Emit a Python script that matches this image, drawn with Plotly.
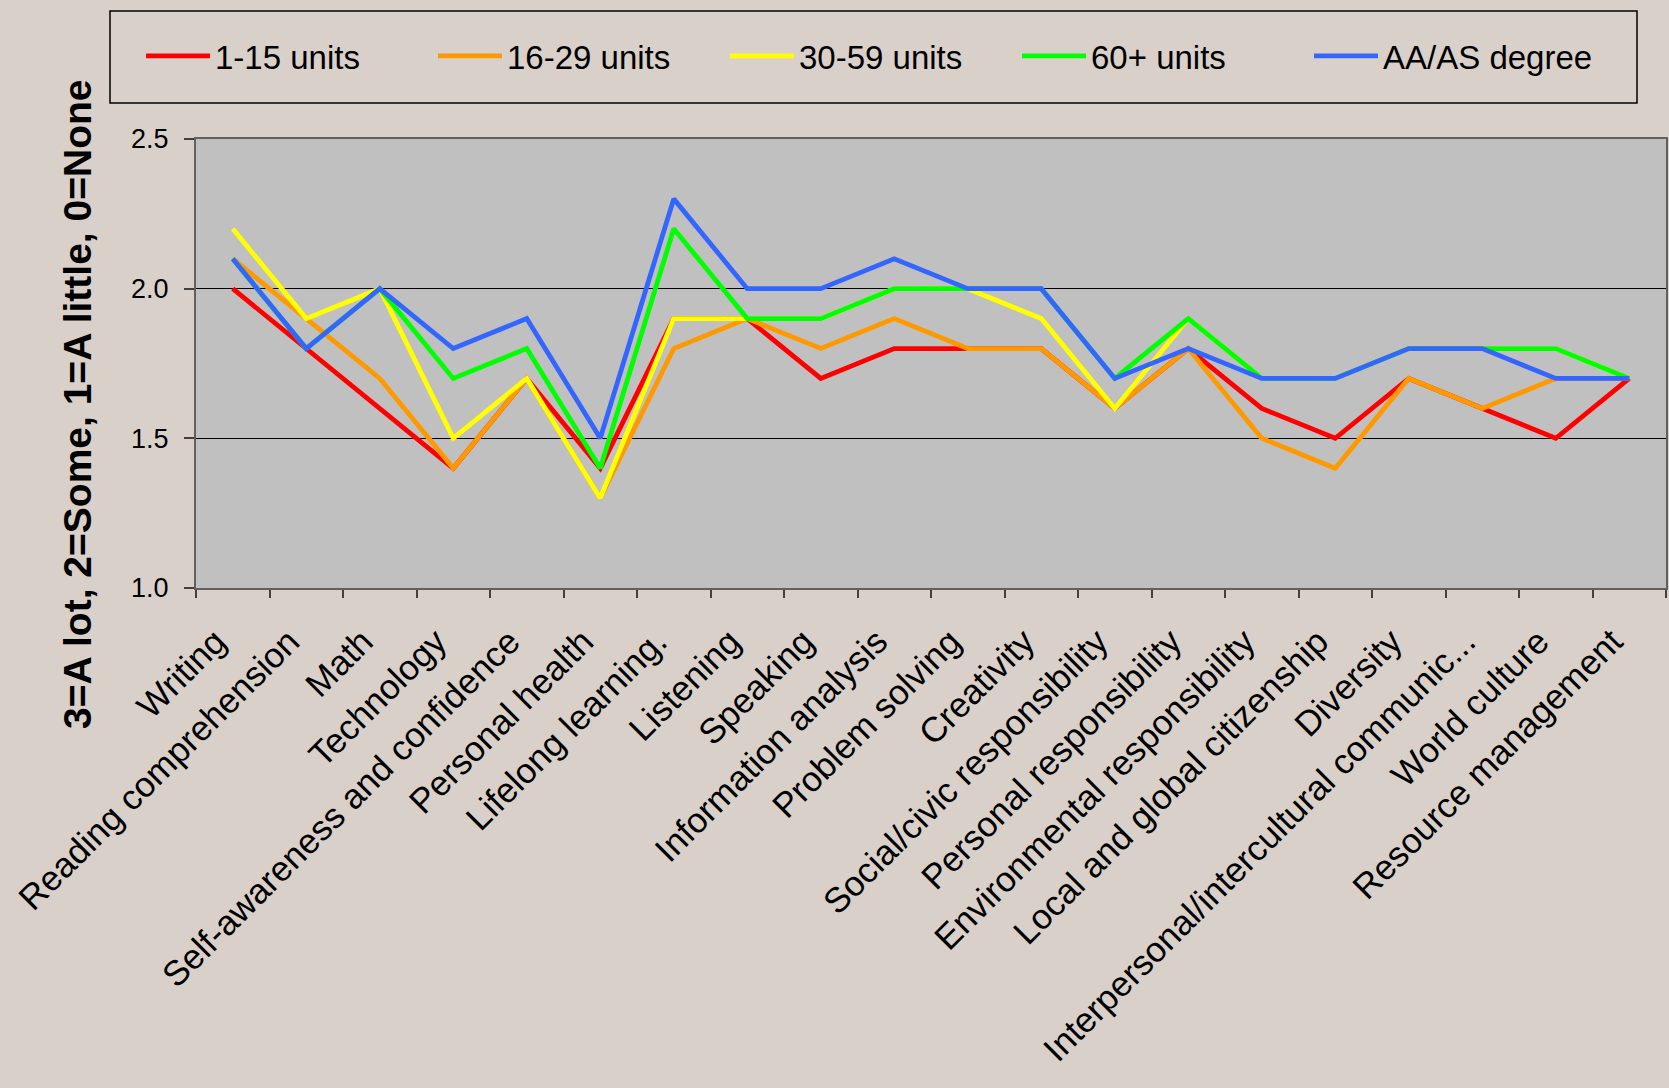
import plotly.graph_objects as go

categories = [
    "Writing", "Reading comprehension", "Math", "Technology",
    "Self-awareness and confidence", "Personal health", "Lifelong learning.",
    "Listening", "Speaking", "Information analysis", "Problem solving",
    "Creativity", "Social/civic responsibility", "Personal responsibility",
    "Environmental responsibility", "Local and global citizenship",
    "Diversity", "Interpersonal/intercultural communic...", "World culture",
    "Resource management",
]

units_1_15 = [2.0, 1.8, 1.6, 1.4, 1.7, 1.4, 1.9, 1.9, 1.7, 1.8, 1.8, 1.8, 1.6, 1.8, 1.6, 1.5, 1.7, 1.6, 1.5, 1.7]
units_16_29 = [2.1, 1.9, 1.7, 1.4, 1.7, 1.3, 1.8, 1.9, 1.8, 1.9, 1.8, 1.8, 1.6, 1.8, 1.5, 1.4, 1.7, 1.6, 1.7, 1.7]
units_30_59 = [2.2, 1.9, 2.0, 1.5, 1.7, 1.3, 1.9, 1.9, 1.9, 2.0, 2.0, 1.9, 1.6, 1.9, 1.7, 1.7, 1.8, 1.8, 1.8, 1.7]
units_60_plus = [2.1, 1.8, 2.0, 1.7, 1.8, 1.4, 2.2, 1.9, 1.9, 2.0, 2.0, 2.0, 1.7, 1.9, 1.7, 1.7, 1.8, 1.8, 1.8, 1.7]
aa_as_degree = [2.1, 1.8, 2.0, 1.8, 1.9, 1.5, 2.3, 2.0, 2.0, 2.1, 2.0, 2.0, 1.7, 1.8, 1.7, 1.7, 1.8, 1.8, 1.7, 1.7]

series_names = ["1-15 units", "16-29 units", "30-59 units", "60+ units", "AA/AS degree"]
series_values = [units_1_15, units_16_29, units_30_59, units_60_plus, aa_as_degree]
series_colors = ["#FF0000", "#FF9900", "#FFFF00", "#00FF00", "#3366FF"]

y_ticks = [1.0, 1.5, 2.0, 2.5]
y_title = "3=A lot, 2=Some, 1=A little, 0=None"

FONT = "Liberation Sans, Arial, sans-serif"

fig = go.Figure()
for name, vals, col in zip(series_names, series_values, series_colors):
    fig.add_trace(go.Scatter(
        x=categories, y=vals, name=name, mode="lines",
        line=dict(color=col, width=4.8),
    ))

W, H = 1669, 1088
ML, MR, MT, MB = 196, 3, 139, 500
pw, ph = W - ML - MR, H - MT - MB

def px_to_paper_x(px):
    return (px - ML) / pw

def px_to_paper_y(py):
    return (H - MB - py) / ph

fig.update_layout(
    width=W, height=H,
    margin=dict(l=ML, r=MR, t=MT, b=MB, autoexpand=False),
    paper_bgcolor="#D9D0CA",
    plot_bgcolor="#C0C0C0",
    font=dict(family=FONT, color="black"),
    showlegend=True,
    legend=dict(
        orientation="h",
        x=px_to_paper_x(141), xanchor="left",
        y=px_to_paper_y(56), yanchor="middle",
        font=dict(size=33, family=FONT, color="black"),
        entrywidth=213, entrywidthmode="pixels",
        bgcolor="rgba(0,0,0,0)", borderwidth=0,
        itemwidth=64,
    ),
    shapes=[dict(
        type="rect", xref="paper", yref="paper",
        x0=px_to_paper_x(110), x1=px_to_paper_x(1637),
        y0=px_to_paper_y(103), y1=px_to_paper_y(11),
        line=dict(color="black", width=1.5), fillcolor="rgba(0,0,0,0)",
        layer="below",
    )],
    annotations=[dict(
        text=y_title, textangle=-90, xref="paper", yref="paper",
        x=px_to_paper_x(77), y=px_to_paper_y(404),
        xanchor="center", yanchor="middle", showarrow=False,
        font=dict(size=39, family=FONT, color="black", weight="bold"),
    )],
)

fig.update_xaxes(
    type="category",
    range=[-0.5, len(categories) - 0.5],
    tickangle=-45,
    tickfont=dict(size=35, family=FONT, color="black"),
    ticks="outside", ticklen=8, tickcolor="#404040", tickwidth=1.5,
    tickson="boundaries",
    ticklabelstandoff=17,
    ticklabelshift=-17,
    showgrid=False,
    showline=True, linecolor="#606060", linewidth=2, mirror=True,
)
fig.update_yaxes(
    range=[1.0, 2.5],
    tickvals=y_ticks,
    tickformat=".1f",
    tickfont=dict(size=27, family=FONT, color="black"),
    ticks="outside", ticklen=10, tickcolor="#404040", tickwidth=1.5,
    ticklabelstandoff=10,
    showgrid=True, gridcolor="black", gridwidth=1,
    showline=True, linecolor="#606060", linewidth=2, mirror=True,
    zeroline=False,
)

fig.write_html("out.html")
